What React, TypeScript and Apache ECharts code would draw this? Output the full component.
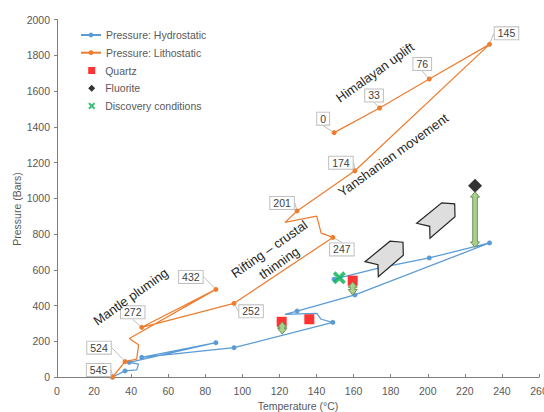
import React, { useEffect, useRef } from 'react';
import * as echarts from 'echarts';

// Shared temperature (°C) of each stage, ages (Ma) label the lithostatic points
const ages = ['545', '524', '', '', '', '432', '272', '252', '247', '', '', '', '201', '174', '145', '76', '33', '0'];
const temperature = [30, 36.7, 43, 44, 39, 85.7, 45.7, 95.5, 148.8, 142.5, 140.1, 123, 129.5, 160.7, 233.3, 200.8, 174, 149.5];
const lithostatic = [0, 86, 100, 180, 215, 490, 278, 412, 781, 805, 900, 865, 929, 1154, 1861, 1667, 1505, 1367];
const hydrostatic = [0, 34, 40, 72, 82, 192, 110, 164, 306, 323, 356, 350, 369, 459, 750, 666, 610, 547];
const hydroMarked = [1, 1, 0, 0, 1, 1, 1, 1, 1, 0, 0, 0, 1, 1, 1, 1, 1, 1];

const quartz = [[121.2, 309], [136.1, 323], [159.5, 539]];
const fluorite = [[225.5, 1070]];
const discovery = [[152.3, 555]];
// [temperature, top pressure, bottom pressure]
const rangeArrows = [[121.5, 309, 240], [159.5, 533, 459], [225.5, 1037, 725]];

// label offsets (px) of the age boxes from their points
const labelOffsets: Record<string, [number, number]> = {
  '545': [-14, -7], '524': [-26, -14], '432': [-25, -12.5], '272': [-9, -15],
  '252': [17, 8], '247': [9, 12], '201': [-15, -8], '174': [-14, -8],
  '145': [17, -11], '76': [-7, -15], '33': [-5.5, -12.5], '0': [-11, -14],
};

const FONT = 'Liberation Sans, Arial, sans-serif';
const X_PATH = 'path://M2,0 L5,3 L8,0 L10,2 L7,5 L10,8 L8,10 L5,7 L2,10 L0,8 L3,5 L0,2 Z';

function chevron(ox: number, oy: number) {
  const rel = [[0, 0], [25, -20.5], [38, -19.5], [38.3, -6.5], [13.3, 15], [13, 3]];
  return {
    type: 'polygon',
    z: 20,
    shape: { points: rel.map(([a, b]) => [ox + a, oy + b]) },
    style: { fill: '#dedede', stroke: '#262626', lineWidth: 1.2 },
  };
}

function rotText(text: string, x: number, y: number, deg: number) {
  return {
    type: 'text',
    x, y,
    rotation: (deg * Math.PI) / 180,
    z: 20,
    style: {
      text,
      fontSize: 13,
      fontFamily: FONT,
      lineHeight: 17,
      fill: '#262626',
      align: 'center',
      verticalAlign: 'middle',
      textAlign: 'center',
      textVerticalAlign: 'middle',
    },
  };
}

export default function App() {
  const ref = useRef<HTMLDivElement>(null);
  useEffect(() => {
    if (!ref.current) return;
    const chart = echarts.init(ref.current, undefined, { renderer: 'svg' });

    const lithoData = temperature.map((t, i) => ({
      value: [t, lithostatic[i]],
      symbol: ages[i] !== '' ? 'circle' : 'none',
      label: { show: ages[i] !== '' },
    }));
    const hydroData = temperature.map((t, i) => ({
      value: [t, hydrostatic[i]],
      symbol: hydroMarked[i] ? 'circle' : 'none',
    }));

    const legendText = { fontSize: 10.5, color: '#595959', fontFamily: FONT };

    const option: any = {
      animation: false,
      textStyle: { fontFamily: FONT },
      grid: { left: 57, right: 5, top: 19.5, bottom: 35, containLabel: false, outerBoundsMode: 'none' },
      legend: [
        {
          orient: 'vertical',
          left: 80,
          top: 29.5,
          padding: 0,
          itemWidth: 20,
          itemHeight: 6,
          itemGap: 6.7,
          textStyle: legendText,
          data: ['Pressure: Hydrostatic', 'Pressure: Lithostatic'],
        },
        {
          orient: 'vertical',
          left: 88.2,
          top: 65,
          padding: 0,
          itemWidth: 7,
          itemHeight: 7,
          itemGap: 6.7,
          textStyle: { ...legendText, padding: [0, 0, 0, 5] },
          data: ['Quartz', 'Fluorite', 'Discovery conditions'],
        },
      ],
      xAxis: {
        type: 'value',
        min: 0,
        max: 260,
        interval: 20,
        name: 'Temperature (°C)',
        nameLocation: 'middle',
        nameGap: 23,
        nameTextStyle: { fontSize: 10.5, color: '#595959' },
        axisLine: { show: true, lineStyle: { color: '#7f7f7f' } },
        axisTick: { show: true, inside: true, length: 3, lineStyle: { color: '#7f7f7f' } },
        axisLabel: { fontSize: 10.5, color: '#595959', margin: 8 },
        splitLine: { show: false },
      },
      yAxis: {
        type: 'value',
        min: 0,
        max: 2000,
        interval: 200,
        axisLine: { show: true, lineStyle: { color: '#7f7f7f' } },
        axisTick: { show: true, inside: false, length: 3, lineStyle: { color: '#7f7f7f' } },
        axisLabel: { fontSize: 10.5, color: '#595959', margin: 7, formatter: (v: number) => String(v) },
        splitLine: { show: false },
      },
      series: [
        {
          name: 'Pressure: Hydrostatic',
          type: 'line',
          data: hydroData,
          symbol: 'circle',
          symbolSize: 5,
          showAllSymbol: true,
          color: '#5b9bd5',
          lineStyle: { width: 1.25, color: '#5b9bd5' },
          itemStyle: { color: '#5b9bd5' },
          z: 2,
        },
        {
          name: 'Pressure: Lithostatic',
          type: 'line',
          data: lithoData,
          symbol: 'circle',
          symbolSize: 5,
          showAllSymbol: true,
          color: '#ed7d31',
          lineStyle: { width: 1.25, color: '#ed7d31' },
          itemStyle: { color: '#ed7d31' },
          z: 3,
          label: {
            show: false,
            formatter: (p: any) => ages[p.dataIndex],
            fontSize: 10.5,
            color: '#404040',
            backgroundColor: '#ffffff',
            borderColor: '#bfbfbf',
            borderWidth: 1,
            padding: [1, 3, 0, 3],
            lineHeight: 11,
          },
          labelLine: { show: true, lineStyle: { color: '#bfbfbf', width: 1 } },
          labelLayout: (params: any) => {
            const off = labelOffsets[ages[params.dataIndex]] || [0, 0];
            const r = params.rect;
            return {
              x: r.x + r.width / 2 + off[0],
              y: r.y + r.height / 2 + off[1],
              align: 'center',
              verticalAlign: 'middle',
            };
          },
        },
        {
          name: 'Quartz',
          type: 'scatter',
          data: quartz,
          symbol: 'rect',
          symbolSize: 10,
          itemStyle: { color: '#ff0000' },
          z: 4,
        },
        {
          name: 'Fluorite',
          type: 'scatter',
          data: fluorite,
          symbol: 'diamond',
          symbolSize: 14,
          itemStyle: { color: '#000000' },
          z: 4,
        },
        {
          name: 'Discovery conditions',
          type: 'scatter',
          data: discovery,
          symbol: X_PATH,
          symbolSize: 13,
          itemStyle: { color: '#00b050' },
          z: 4,
        },
        {
          name: 'ranges',
          type: 'custom',
          data: rangeArrows,
          z: 6,
          encode: { x: 0, y: [1, 2] },
          renderItem: (params: any, api: any) => {
            const x = api.value(0);
            const top = api.coord([x, api.value(1)]);
            const bot = api.coord([x, api.value(2)]);
            const cx = top[0];
            const t = top[1];
            const b = bot[1];
            const sw = 2.3, hw = 4.5, hl = 5.5;
            const points = [
              [cx, t], [cx + hw, t + hl], [cx + sw, t + hl], [cx + sw, b - hl], [cx + hw, b - hl],
              [cx, b], [cx - hw, b - hl], [cx - sw, b - hl], [cx - sw, t + hl], [cx - hw, t + hl],
            ];
            return {
              type: 'polygon',
              shape: { points },
              style: { fill: '#a9d18e', stroke: '#6f8f5a', lineWidth: 1 },
            };
          },
        },
      ],
      graphic: [
        chevron(365, 261.7),
        chevron(416.7, 223.3),
        rotText('Mantle pluming', 130.7, 296.7, 35.5),
        rotText('Rifting – crustal\nthinning', 274.2, 256, 35),
        rotText('Himalayan uplift', 375, 72.5, 35.6),
        rotText('Yanshanian movement', 393.3, 155, 35.7),
        {
          type: 'text',
          x: 17,
          y: 209,
          rotation: Math.PI / 2,
          style: {
            text: 'Pressure (Bars)',
            fontSize: 10.5,
            fontFamily: FONT,
            fill: '#595959',
            align: 'center',
            verticalAlign: 'middle',
            textAlign: 'center',
            textVerticalAlign: 'middle',
          },
        },
      ],
    };

    chart.setOption(option);
    return () => chart.dispose();
  }, []);

  return <div ref={ref} style={{ position: 'fixed', left: 0, top: 0, width: 544, height: 412, background: '#ffffff' }} />;
}
